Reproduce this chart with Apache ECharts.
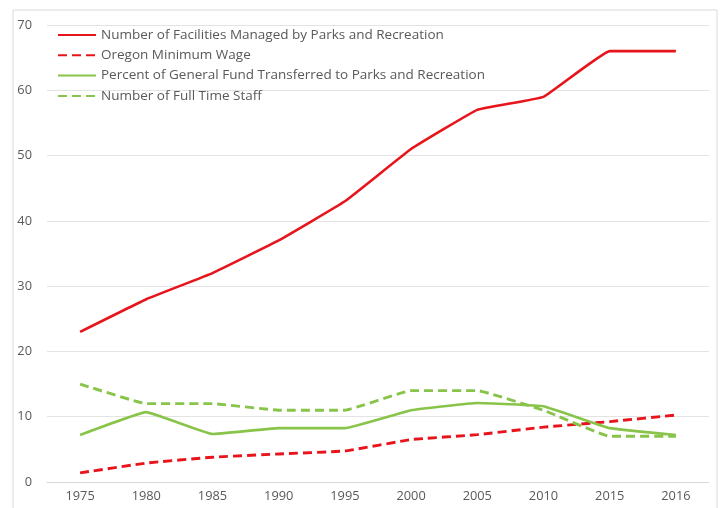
<!DOCTYPE html>
<html><head><meta charset="utf-8">
<script src="https://cdn.jsdelivr.net/npm/echarts@6/dist/echarts.min.js"></script>
<style>html,body{margin:0;padding:0;background:#fff}#c{width:722px;height:508px}</style>
</head><body><div id="c"></div>
<script>
var categories = ['1975','1980','1985','1990','1995','2000','2005','2010','2015','2016'];
var facilities = [23, 28, 32, 37, 43, 51, 57, 59, 66, 66];
var minWage = [1.4, 2.9, 3.8, 4.3, 4.75, 6.5, 7.25, 8.4, 9.25, 10.25];
var percentFund = [7.2, 10.7, 7.35, 8.25, 8.25, 11, 12.1, 11.6, 8.25, 7.2];
var staff = [15, 12, 12, 11, 11, 14, 14, 11, 7, 7];
var seriesNames = ['Number of Facilities Managed by Parks and Recreation','Oregon Minimum Wage','Percent of General Fund Transferred to Parks and Recreation','Number of Full Time Staff'];

var RED = '#e8141c', GREEN = '#88c449';
var font = '"Open Sans", "Liberation Sans", sans-serif';
var chart = echarts.init(document.getElementById('c'));
function mk(name, data, color, dashed) {
  return {
    name: name, type: 'line', data: data, smooth: 0.08, symbol: 'none',
    lineStyle: { color: color, width: dashed ? 2.9 : 2.6, type: dashed ? [9, 5] : 'solid', cap: 'butt' },
    itemStyle: { color: color }
  };
}
chart.setOption({
  animation: false,
  graphic: [{ type: 'rect', shape: { x: 13, y: 10, width: 704, height: 520 }, style: { fill: 'none', stroke: '#d9d9d9', lineWidth: 1 }, silent: true }],
  grid: { left: 47, right: 13, top: 25, bottom: 26 },
  legend: {
    orient: 'vertical', left: 52, top: 23, itemWidth: 38, itemHeight: 14, itemGap: 6.3,
    data: seriesNames,
    itemStyle: { opacity: 0 },
    textStyle: { color: '#595959', fontSize: 13.5, fontFamily: font }
  },
  xAxis: {
    type: 'category', data: categories, boundaryGap: true,
    axisLine: { lineStyle: { color: '#d9d9d9' } }, axisTick: { show: false },
    axisLabel: { color: '#595959', fontSize: 12.8, fontFamily: font, margin: 8 }
  },
  yAxis: {
    type: 'value', min: 0, max: 70, interval: 10,
    axisLine: { show: false }, axisTick: { show: false },
    splitLine: { lineStyle: { color: '#e3e3e3' } },
    axisLabel: { color: '#595959', fontSize: 12.8, fontFamily: font, margin: 15 }
  },
  series: [
    mk(seriesNames[0], facilities, RED, false),
    mk(seriesNames[1], minWage, RED, true),
    mk(seriesNames[2], percentFund, GREEN, false),
    mk(seriesNames[3], staff, GREEN, true)
  ]
});
</script></body></html>
